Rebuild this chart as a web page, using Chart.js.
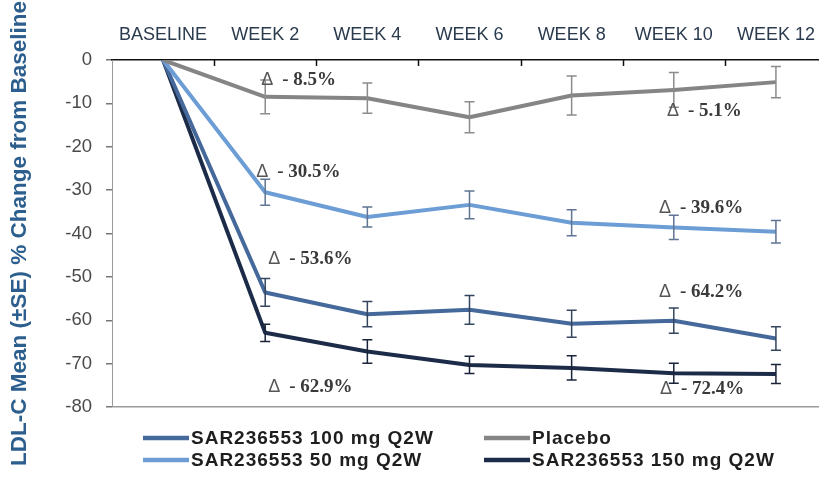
<!DOCTYPE html>
<html>
<head>
<meta charset="utf-8">
<script src="https://cdn.jsdelivr.net/npm/chart.js@4.4.1/dist/chart.umd.min.js"></script>
<style>
  html, body { margin: 0; padding: 0; background: #fff; overflow: hidden; }
  #wrap { width: 835px; height: 479px; }
</style>
</head>
<body>
<div id="wrap"><canvas id="c" width="835" height="479"></canvas></div>
<script>
// Visits and LDL-C mean % change from baseline (± standard error)
const weeks = ['BASELINE', 'WEEK 2', 'WEEK 4', 'WEEK 6', 'WEEK 8', 'WEEK 10', 'WEEK 12'];

const placebo   = [0,  -8.5,  -8.8, -13.2,  -8.2,  -6.9,  -5.1];
const placeboSE = [null, 3.9,  3.5,   3.6,   4.5,   4.0,   3.6];

const dose50    = [0, -30.5, -36.2, -33.4, -37.5, -38.6, -39.6];
const dose50SE  = [null, 3.0,  2.3,   3.2,   3.0,   2.8,   2.6];

const dose100   = [0, -53.6, -58.6, -57.6, -60.8, -60.1, -64.2];
const dose100SE = [null, 3.2,  2.9,   3.3,   3.1,   2.9,   2.7];

const dose150   = [0, -62.9, -67.2, -70.3, -71.0, -72.2, -72.4];
const dose150SE = [null, 2.0,  2.7,   2.0,   2.8,   2.3,   2.2];

const yTickValues = [0, -10, -20, -30, -40, -50, -60, -70, -80];

const seriesNames = {
  placebo: 'Placebo',
  d50: 'SAR236553 50 mg Q2W',
  d100: 'SAR236553 100 mg Q2W',
  d150: 'SAR236553 150 mg Q2W'
};

// Δ callouts: which series/visit they report, where the text sits
const deltaNotes = [
  { series: placebo, visit: 1, baseY: -5.8,  dx: -4 },
  { series: dose50,  visit: 1, baseY: -27.0, dx: -9 },
  { series: dose100, visit: 1, baseY: -47.0, dx: 3 },
  { series: dose150, visit: 1, baseY: -76.5, dx: 3 },
  { series: placebo, visit: 6, baseY: -12.9, dx: -109 },
  { series: dose50,  visit: 6, baseY: -35.3, dx: -117 },
  { series: dose100, visit: 6, baseY: -54.6, dx: -117 },
  { series: dose150, visit: 6, baseY: -77.0, dx: -116 }
];

const SANS = '"Liberation Sans", Arial, Helvetica, sans-serif';
const SERIF = '"Liberation Serif", "Times New Roman", serif';
Chart.defaults.font.family = SANS;

function line(label, data, se, color, errColor) {
  return {
    label, data, se, errColor,
    borderColor: color, backgroundColor: color,
    borderWidth: 4, pointRadius: 0, pointHoverRadius: 0,
    tension: 0, fill: false, borderJoinStyle: 'round'
  };
}

const datasets = [
  line(seriesNames.placebo, placebo, placeboSE, '#858585', '#8c8c8c'),
  line(seriesNames.d50, dose50, dose50SE, '#6c9dd5', '#5f7593'),
  line(seriesNames.d100, dose100, dose100SE, '#45699a', '#34465e'),
  line(seriesNames.d150, dose150, dose150SE, '#1c2b47', '#19233a')
];

// legend grid: row by row, two columns
const legendGrid = [
  [seriesNames.d100, seriesNames.placebo],
  [seriesNames.d50, seriesNames.d150]
];

const errorBars = {
  id: 'errorBars',
  afterDatasetsDraw(chart) {
    const { ctx, scales: { x, y } } = chart;
    ctx.save();
    chart.data.datasets.forEach(ds => {
      ctx.strokeStyle = ds.errColor;
      ctx.lineWidth = 1.5;
      ds.data.forEach((v, i) => {
        const se = ds.se[i];
        if (se == null) return;
        const px = x.getPixelForValue(i);
        const top = y.getPixelForValue(v + se);
        const bot = y.getPixelForValue(v - se);
        ctx.beginPath();
        ctx.moveTo(px, top); ctx.lineTo(px, bot);
        ctx.moveTo(px - 5, top); ctx.lineTo(px + 5, top);
        ctx.moveTo(px - 5, bot); ctx.lineTo(px + 5, bot);
        ctx.stroke();
      });
    });
    ctx.restore();
  }
};

// short tick marks pointing into the plot from the top axis, between visits
const innerTicks = {
  id: 'innerTicks',
  afterDraw(chart) {
    const { ctx, chartArea, scales: { x } } = chart;
    ctx.save();
    ctx.strokeStyle = '#111';
    ctx.lineWidth = 1.5;
    for (let i = 1; i < weeks.length; i++) {
      const px = Math.round(x.getPixelForValue(i - 0.5)) + 0.5;
      ctx.beginPath();
      ctx.moveTo(px, chartArea.top);
      ctx.lineTo(px, chartArea.top + 6);
      ctx.stroke();
    }
    ctx.restore();
  }
};

const deltaCallouts = {
  id: 'deltaCallouts',
  afterDraw(chart) {
    const { ctx, scales: { x, y } } = chart;
    ctx.save();
    ctx.textBaseline = 'alphabetic';
    ctx.textAlign = 'left';
    deltaNotes.forEach(n => {
      const px = x.getPixelForValue(n.visit) + n.dx;
      const py = y.getPixelForValue(n.baseY);
      ctx.font = '18px ' + SANS;
      ctx.fillStyle = '#555';
      ctx.fillText('Δ', px, py);
      const w = ctx.measureText('Δ').width;
      ctx.font = 'bold 19px ' + SERIF;
      ctx.fillStyle = '#3a3a3a';
      const val = Math.abs(n.series[n.visit]).toFixed(1);
      ctx.fillText('- ' + val + '%', px + w + 9, py);
    });
    ctx.restore();
  }
};

const gridLegend = {
  id: 'gridLegend',
  afterDraw(chart) {
    const { ctx, chartArea } = chart;
    const colX = [chartArea.left + 31, chartArea.left + 372];
    const rowY = [chartArea.bottom + 31, chartArea.bottom + 53];
    ctx.save();
    ctx.textBaseline = 'middle';
    ctx.textAlign = 'left';
    legendGrid.forEach((row, r) => {
      row.forEach((name, c) => {
        const ds = chart.data.datasets.find(d => d.label === name);
        const lx = colX[c], ly = rowY[r];
        ctx.strokeStyle = ds.borderColor;
        ctx.lineWidth = 4.5;
        ctx.beginPath();
        ctx.moveTo(lx, ly);
        ctx.lineTo(lx + 46, ly);
        ctx.stroke();
        ctx.font = 'bold 19px ' + SANS;
        if ('letterSpacing' in ctx) ctx.letterSpacing = '1px';
        ctx.fillStyle = '#1e1e1e';
        ctx.fillText(name, lx + 48, ly + 1);
        if ('letterSpacing' in ctx) ctx.letterSpacing = '0px';
      });
    });
    ctx.restore();
  }
};

new Chart(document.getElementById('c'), {
  type: 'line',
  data: { labels: weeks, datasets },
  options: {
    responsive: false,
    animation: false,
    layout: { padding: { left: 0, right: 8, top: 0, bottom: 72 } },
    plugins: { legend: { display: false }, tooltip: { enabled: false } },
    scales: {
      x: {
        position: 'top',
        offset: true,
        grid: { offset: true, drawOnChartArea: false, drawTicks: false },
        border: { color: '#111', width: 1.5 },
        ticks: { padding: 14, color: '#2b3b4e', font: { size: 18 }, maxRotation: 0, autoSkip: false },
        afterFit(s) { s.height = 60; }
      },
      y: {
        min: -80, max: 0,
        afterBuildTicks(s) { s.ticks = yTickValues.map(v => ({ value: v })); },
        ticks: { padding: 14, color: '#4a4a4a', font: { size: 18.5 } },
        grid: {
          drawOnChartArea: true,
          color: c => (c.tick && c.tick.value === -80) ? '#9a9a9a' : 'rgba(0,0,0,0)',
          lineWidth: 1.5,
          drawTicks: true,
          tickLength: 6,
          tickColor: '#777'
        },
        border: { color: '#9a9a9a', width: 1 },
        title: {
          display: true,
          text: 'LDL-C Mean (±SE) % Change from Baseline',
          color: '#2c5f8e',
          font: { size: 22.5, weight: 'bold' },
          padding: { top: 6.5, bottom: 0 }
        },
        afterFit(s) { s.width = 112; }
      }
    }
  },
  plugins: [errorBars, innerTicks, deltaCallouts, gridLegend]
});
</script>
</body>
</html>
